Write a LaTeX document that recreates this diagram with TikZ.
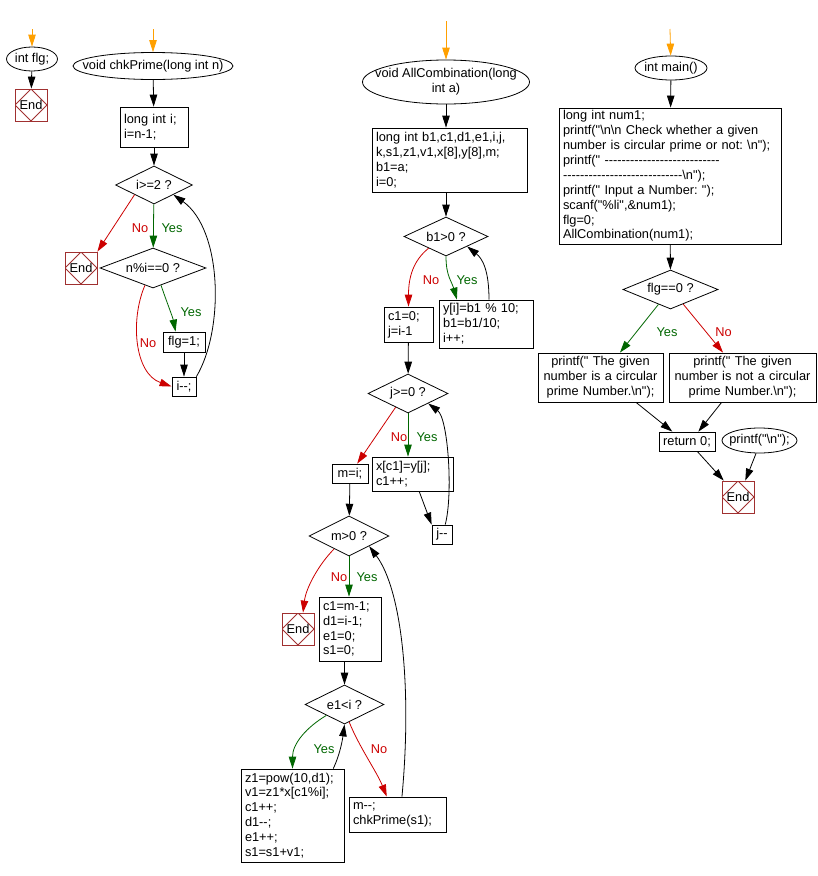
\documentclass[tikz,border=0pt]{standalone}
\usepackage{fontspec}
\setmainfont{Liberation Sans}[Ligatures=TeXOff]
\usetikzlibrary{shapes.geometric, arrows.meta}
\definecolor{NoRed}{RGB}{204, 0, 0}
\definecolor{YesGreen}{RGB}{0, 102, 0}
\definecolor{StartOrange}{RGB}{255, 160, 0}
\definecolor{EndBrown}{RGB}{160, 48, 48}
\newcommand{\slimtext}[1]{\makebox[0pt]{#1}}
\frenchspacing

\begin{document}
\begin{tikzpicture}[x=1pt, y=-1pt, font=\fontsize{12.8}{14.9}\selectfont, line width=0.8pt]
\tikzstyle{block} = [rectangle, draw, align=left, inner xsep=4pt, inner ysep=0pt]
\tikzstyle{cblock} = [block, align=center]
\tikzstyle{sblock} = [rectangle, draw, inner sep=0pt]
\tikzstyle{term} = [ellipse, draw, inner sep=0pt]
\tikzstyle{decision} = [diamond, draw, aspect=2, inner sep=0pt]
\tikzstyle{endbox} = [rectangle, draw=EndBrown, minimum size=32pt, inner sep=0pt,
    path picture={\draw[EndBrown] (path picture bounding box.north) -- (path picture bounding box.east)
    -- (path picture bounding box.south) -- (path picture bounding box.west) -- cycle;}]
\tikzstyle{line} = [draw, -{Triangle[length=12pt, width=7.5pt]}]
\tikzstyle{startline} = [line, StartOrange]
\tikzstyle{yesline} = [line, YesGreen]
\tikzstyle{noline} = [line, NoRed]
\tikzstyle{yeslabel} = [text=YesGreen, inner sep=0pt]
\tikzstyle{nolabel} = [text=NoRed, inner sep=0pt]

\useasboundingbox (0,0) rectangle (818,876);

% int flg
\coordinate (flgtop) at (32,29);
\node [term, minimum width=51pt, minimum height=24pt] (flg) at (32,59) {\slimtext{int flg;}};
\node [endbox] (flgend) at (31,105) {End};
\path [startline] (flgtop) -- (flg);
\path [line] (flg) -- (flgend);
%
% chkPrime
\coordinate (cptop) at (153,29);
\node [term, minimum width=160pt, minimum height=27pt] (cp) at (153,66) {\slimtext{void chkPrime(long int n)}};
\node [block, text width=60pt, minimum height=40pt] (cpi) at (154,127) {long int i;\\i=n-1;};
\node [decision, minimum width=77pt, minimum height=38pt] (ige) at (154,185) {i>=2 ?};
\node [endbox] (cpend) at (81,268) {End};
\node [decision, minimum width=106pt, minimum height=40pt] (nmod) at (153,268) {n\%i==0 ?};
\node [sblock, minimum width=42pt, minimum height=20pt] (flgone) at (184,342) {flg=1;};
\node [sblock, minimum width=24pt, minimum height=19pt] (idec) at (184,386.5) {i--;};
\node [nolabel] (no1) at (140,228) {No};
\node [yeslabel] (yes1) at (172,228) {Yes};
\node [yeslabel] (yes2) at (191,312) {Yes};
\node [nolabel] (no2) at (148,343) {No};
\path [startline] (cptop) -- (cp);
\path [line] (cp) -- (cpi);
\path [line] (cpi) -- (ige);
\path [noline] (ige.south west) -- (cpend.north east);
\path [yesline] (ige) -- (nmod);
\path [yesline] (nmod.295) .. controls +(5,15) and +(-3,-15) .. (flgone.129);
\path [noline] (nmod.245) .. controls +(-15,35) and +(-37,-13) .. (idec.west);
\path [line] (flgone) -- (idec);
\path [line] (idec.north east) .. controls +(28,-47) and +(49,35) .. (ige.south east);
%
% AllCombination
\coordinate (actop) at (446,21);
\node [term, minimum width=167pt, minimum height=44pt] (ac) at (446,82)
    {\slimtext{\begin{tabular}{@{}c@{}}void AllCombination(long\\int a)\end{tabular}}};
\node [block, text width=147pt, minimum height=64pt] (acv) at (449.5,160)
    {long int b1,c1,d1,e1,i,j,\\k,s1,z1,v1,x[8],y[8],m;\\b1=a;\\i=0;};
\node [decision, minimum width=84pt, minimum height=39pt] (bgt) at (446,236.5) {b1>0 ?};
\node [block, text width=41pt, minimum height=35pt] (cj) at (408.5,324.5) {c1=0;\\j=i-1};
\node [block, text width=86pt, minimum height=48pt] (ymod) at (486,324) {y[i]=b1 \% 10;\\b1=b1/10;\\i++;};
\node [decision, minimum width=80pt, minimum height=39pt] (jge) at (408,393.5) {j>=0 ?};
\node [sblock, minimum width=36pt, minimum height=19pt] (mi) at (350,473.5) {m=i;};
\node [block, text width=73pt, minimum height=34pt] (xc) at (412.5,474) {x[c1]=y[j];\\c1++;};
\node [sblock, minimum width=20pt, minimum height=19pt] (jd) at (442,534.5) {j--};
\node [decision, minimum width=80pt, minimum height=40pt] (mgt) at (349,536) {m>0 ?};
\node [endbox] (mend) at (298,629) {End};
\node [block, text width=54pt, minimum height=64pt] (cm) at (350,629) {c1=m-1;\\d1=i-1;\\e1=0;\\s1=0;};
\node [decision, minimum width=79pt, minimum height=39pt] (elt) at (344.5,704.5) {e1<i ?};
\node [block, text width=95pt, minimum height=93pt] (zb) at (292.5,815.5)
    {z1=pow(10,d1);\\v1=z1*x[c1\%i];\\c1++;\\d1--;\\e1++;\\s1=s1+v1;};
\node [block, text width=89pt, minimum height=35pt] (mm) at (397.5,814.5) {m--;\\chkPrime(s1);};
\node [nolabel] (no3) at (431,280) {No};
\node [yeslabel] (yes3) at (467,280) {Yes};
\node [nolabel] (no4) at (399,437) {No};
\node [yeslabel] (yes4) at (427,437) {Yes};
\node [nolabel] (no5) at (339,577) {No};
\node [yeslabel] (yes5) at (367,577) {Yes};
\node [yeslabel] (yes6) at (324,749) {Yes};
\node [nolabel] (no6) at (379,749) {No};
\path [startline] (actop) -- (ac);
\path [line] (ac) -- (ac |- acv.north);
\path [line] (acv.south -| bgt) -- (bgt);
\path [noline] (bgt.214) .. controls +(-15,12) and +(0,-30) .. (cj.north);
\path [yesline] (bgt.south) .. controls +(0,20) and +(-5,-18) .. (ymod.140);
\path [line] (ymod.83) .. controls +(0,-30) and +(15,12) .. (bgt.south east);
\path [line] (cj) -- (jge);
\path [noline] (jge.228) -- (mi.54);
\path [yesline] (jge.south) -- (jge.south |- xc.north);
\path [line] (xc.291) -- (jd.north west);
\path [line] (jd.72) .. controls +(8,-30) and +(20,15) .. (jge.south east);
\path [line] (mi) -- (mgt);
\path [noline] (mgt.221) .. controls +(-15,15) and +(3,-25) .. (mend.73);
\path [yesline] (mgt.south) -- (mgt.south |- cm.north);
\path [line] (cm.south -| elt) -- (elt);
\path [yesline] (elt.211) .. controls +(-20,12) and +(0,-25) .. (zb.north);
\path [line] (zb.49) .. controls +(7,-15) and +(-2,15) .. (elt.south);
\path [noline] (elt.285) .. controls +(10,25) and +(-10,-25) .. (mm.121);
\path [line] (mm.76) .. controls +(10,-107) and +(33,44) .. (mgt.south east);
%
% main
\coordinate (mntop) at (670,29);
\node [term, minimum width=72pt, minimum height=24pt] (mn) at (671,68) {\slimtext{int main()}};
\node [block, text width=214pt, minimum height=136pt] (mnv) at (670,176)
    {long int num1;\\
     printf("\textbackslash n\textbackslash n Check whether a given\\
     number is circular prime or not: \textbackslash n");\\
     printf(" ---------------------------\\
     ----------------------------\textbackslash n");\\
     printf(" Input a Number: ");\\
     scanf("\%li",\&num1);\\
     flg=0;\\
     AllCombination(num1);};
\node [decision, minimum width=95pt, minimum height=39pt] (fz) at (670.5,289.5) {flg==0 ?};
\node [cblock, text width=117pt, minimum height=49pt] (isbox) at (600.5,377.5)
    {printf(" The given\\number is a circular\\prime Number.\textbackslash n");};
\node [cblock, text width=139pt, minimum height=49pt] (notbox) at (742.5,377.5)
    {printf(" The given\\number is not a circular\\prime Number.\textbackslash n");};
\node [sblock, minimum width=56pt, minimum height=19pt] (ret) at (687,441.5) {return 0;};
\node [term, minimum width=75pt, minimum height=25pt] (nl) at (759.5,440.5) {\slimtext{printf("\textbackslash n");}};
\node [endbox] (mainend) at (738,497) {End};
\node [yeslabel] (yes7) at (667,332) {Yes};
\node [nolabel] (no7) at (723.5,332) {No};
\path [startline] (mntop) -- (mn);
\path [line] (mn) -- (mnv);
\path [line] (mnv) -- (fz);
\path [yesline] (fz.231) -- (isbox.52);
\path [noline] (fz.311) -- (notbox.128);
\path [line] (isbox.325) -- (ret.146);
\path [line] (notbox.230) -- (ret.41);
\path [line] (ret.316) -- (mainend.131);
\path [line] (nl.255) -- (mainend.66);

\end{tikzpicture}
\end{document}
